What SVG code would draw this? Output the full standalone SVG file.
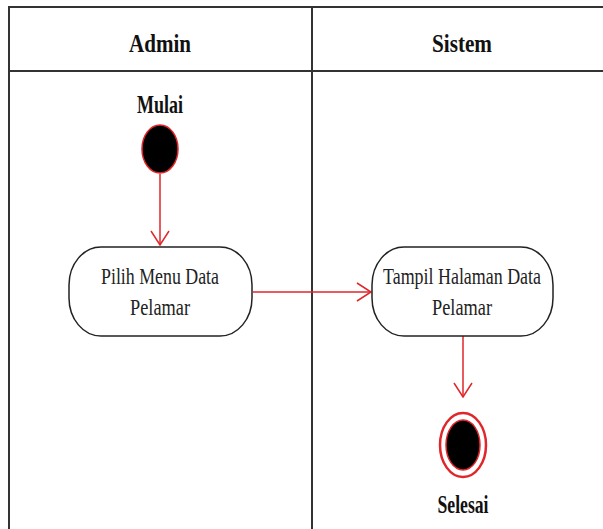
<svg xmlns="http://www.w3.org/2000/svg" width="603" height="529" viewBox="0 0 603 529">
<style>
.lane{fill:none;stroke:#333;stroke-width:2}
.hdr{font-family:"Liberation Serif",serif;font-weight:bold;font-size:26px;fill:#111;text-anchor:middle}
.lbl{font-family:"Liberation Serif",serif;font-size:24px;fill:#222;text-anchor:middle}
.act{fill:#fff;stroke:#222;stroke-width:1.5}
.flow{fill:none;stroke:#e0262b;stroke-width:1.5}
</style>
<defs>
<marker id="arr" viewBox="0 0 16 20" refX="15" refY="10" markerWidth="16" markerHeight="20" markerUnits="userSpaceOnUse" orient="auto">
<path d="M1,1 L15,10 L1,19" fill="none" stroke="#e0262b" stroke-width="1.5"/>
</marker>
</defs>
<rect width="603" height="529" fill="#fff"/>
<g id="swimlanes">
<path class="lane" d="M9,529 V7 H603 M9,71 H603 M312,7 V529"/>
<text class="hdr" x="160" y="52" textLength="62" lengthAdjust="spacingAndGlyphs">Admin</text>
<text class="hdr" x="462" y="52" textLength="60" lengthAdjust="spacingAndGlyphs">Sistem</text>
</g>
<g id="connectors">
<path class="flow" d="M160,174 V245" marker-end="url(#arr)"/>
<path class="flow" d="M253,292 H371" marker-end="url(#arr)"/>
<path class="flow" d="M463,336 V397" marker-end="url(#arr)"/>
</g>
<g id="start">
<text class="hdr" x="160" y="113" textLength="46" lengthAdjust="spacingAndGlyphs" font-size="23">Mulai</text>
<ellipse cx="160" cy="149" rx="18" ry="24" fill="#000" stroke="#e0262b" stroke-width="1.5"/>
</g>
<g id="pilih-menu">
<rect class="act" x="69" y="247" width="183" height="89" rx="32" ry="38"/>
<text class="lbl" x="160" y="284" textLength="118" lengthAdjust="spacingAndGlyphs">Pilih Menu Data</text>
<text class="lbl" x="160" y="315" textLength="60" lengthAdjust="spacingAndGlyphs">Pelamar</text>
</g>
<g id="tampil-halaman">
<rect class="act" x="372" y="247" width="181" height="89" rx="32" ry="38"/>
<text class="lbl" x="462" y="284" textLength="158" lengthAdjust="spacingAndGlyphs">Tampil Halaman Data</text>
<text class="lbl" x="462" y="315" textLength="60" lengthAdjust="spacingAndGlyphs">Pelamar</text>
</g>
<g id="end">
<ellipse cx="463" cy="445" rx="23" ry="32" fill="#fff" stroke="#e0262b" stroke-width="2.5"/>
<ellipse cx="463" cy="445" rx="17" ry="25" fill="#000" stroke="#e0262b" stroke-width="1.5"/>
<text class="hdr" x="463" y="513" textLength="51" lengthAdjust="spacingAndGlyphs" font-size="23">Selesai</text>
</g>
</svg>
